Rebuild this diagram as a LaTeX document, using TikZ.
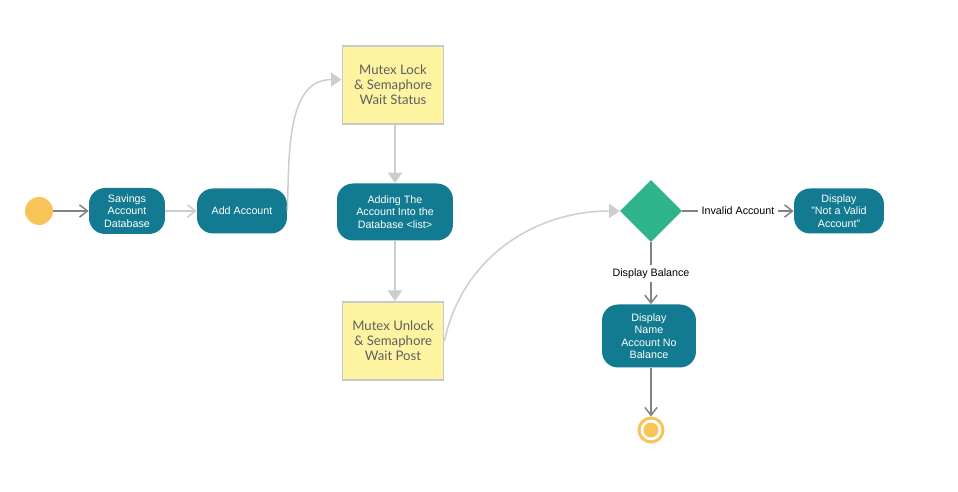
\documentclass[tikz,border=0pt]{standalone}
\usepackage{fontspec}
\setmainfont{Liberation Sans}
\newfontfamily\latofont{Lato}
\usepackage{tikz}
\usetikzlibrary{arrows.meta}
\usetikzlibrary{shapes.geometric}

\definecolor{tealbox}{RGB}{19,123,145}
\definecolor{notebox}{RGB}{253,243,160}
\definecolor{noteline}{RGB}{200,200,200}
\definecolor{notetext}{RGB}{95,95,95}
\definecolor{decgreen}{RGB}{46,179,139}
\definecolor{startorange}{RGB}{248,195,87}
\definecolor{darkline}{RGB}{130,130,130}
\definecolor{lightline}{RGB}{205,205,205}

\begin{document}
\begin{tikzpicture}[x=0.02cm,y=-0.02cm,
	action/.style={fill=tealbox,text=white,rounded corners=0.32cm,align=center,inner sep=0pt,
		font=\fontsize{6.1}{7.1}\selectfont},
	note/.style={fill=notebox,draw=noteline,line width=1.1pt,text=notetext,align=center,inner sep=0pt,
		minimum width=2.02cm,minimum height=1.56cm,font=\latofont\fontsize{7.5}{8.5}\selectfont},
	flowopen/.style={draw=darkline,line width=0.85pt,-{Straight Barb[length=4.5pt,width=7pt]}},
	flowlight/.style={draw=lightline,line width=0.85pt,-{Straight Barb[length=4.5pt,width=7pt]}},
	flowtri/.style={draw=lightline,line width=0.85pt,-{Triangle[length=6pt,width=8pt]}},
	guard/.style={fill=white,text=black,inner sep=2pt,font=\fontsize{6.1}{7.1}\selectfont}]
		\useasboundingbox (0,0) rectangle (958,492);

		% start / end
		\node[circle,fill=startorange,minimum size=0.56cm,inner sep=0pt] (start) at (39,211) {};
		\node[circle,draw=startorange,line width=1.7pt,fill=white,minimum size=0.48cm,inner sep=0pt] (end) at (651,430) {};
		\node[circle,fill=startorange,minimum size=0.3cm,inner sep=0pt] (enddot) at (end) {};

		% actions
		\node[action,minimum width=1.52cm,minimum height=0.92cm] (savings) at (127,211) {Savings\\Account\\Database};
		\node[action,minimum width=1.8cm,minimum height=0.9cm] (add) at (242,211) {Add Account};
		\node[note] (lock) at (393,85) {Mutex Lock\\\& Semaphore\\Wait Status};
		\node[action,minimum width=2.32cm,minimum height=1.14cm] (insert) at (395,212) {Adding The\\Account Into the\\Database <list>};
		\node[note] (unlock) at (393,341) {Mutex Unlock\\\& Semaphore\\Wait Post};
		\node[diamond,fill=decgreen,minimum size=1.24cm,inner sep=0pt] (check) at (651,211) {};
		\node[action,minimum width=1.8cm,minimum height=0.9cm] (invalid) at (839,211) {Display\\"Not a Valid\\Account"};
		\node[action,minimum width=1.88cm,minimum height=1.26cm] (show) at (649,336) {Display\\Name\\Account No\\Balance};

		% connectors
		\draw[flowopen] (start) -- (savings);
		\draw[flowlight] (savings) -- (add);
		\draw[flowtri] (add.east) to[out=88,in=180] (lock.174);
		\draw[flowtri] (lock.south -| insert.north) -- (insert.north);
		\draw[flowtri] (insert.south) -- (unlock.north -| insert.south);
		\draw[flowtri] (unlock.east) to[out=78,in=180] (check.west);
		\draw[flowopen] (check) -- node[guard] (invalidlbl) {Invalid Account} (invalid);
		\draw[flowopen] (check.south) -- node[guard] (balancelbl) {Display Balance} (show.north -| check.south);
		\draw[flowopen] (show.south -| end.north) -- (end);
\end{tikzpicture}
\end{document}
